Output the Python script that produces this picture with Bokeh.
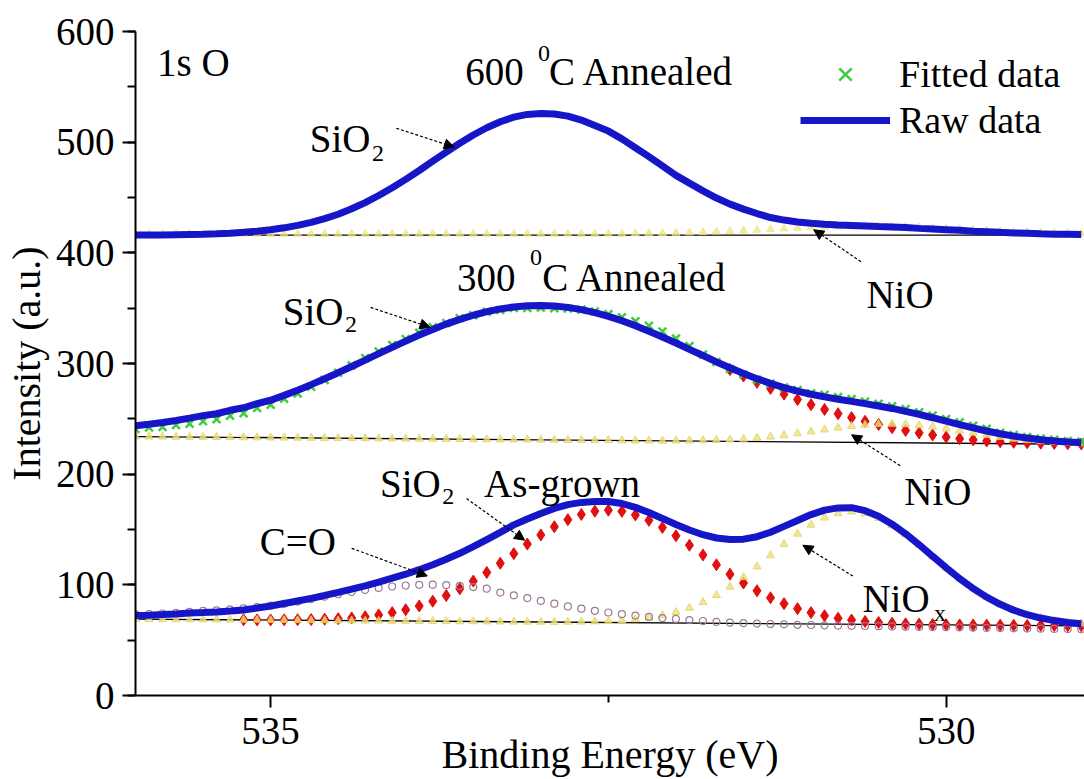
from bokeh.plotting import figure
from bokeh.models import (Range1d, Label, Arrow, NormalHead, FixedTicker,
                          SingleIntervalTicker, Legend, LegendItem, ColumnDataSource)
from bokeh.embed import file_html
from bokeh.resources import INLINE

FONT = "Liberation Serif"

# ---------------- data (binding energy grid, 0.1 eV steps, 536.0 -> 529.0) -------------
energy = [round(536.0 - 0.1 * i, 1) for i in range(71)]

# 600 C annealed
raw_600 = [416.1, 416.2, 416.2, 416.4, 416.6, 416.8, 417.2, 417.8, 418.5, 419.5,
           420.8, 422.6, 424.8, 427.6, 430.9, 434.9, 439.8, 445.4, 451.8, 458.8,
           466.4, 474.4, 482.8, 491.0, 499.0, 506.5, 513.0, 518.5, 522.6, 525.1,
           526.0, 525.5, 523.5, 520.0, 515.0, 510.0, 503.0, 495.0, 487.0, 478.5,
           470.0, 463.0, 456.0, 449.5, 444.0, 439.5, 435.5, 431.9, 429.6, 427.9,
           426.7, 425.9, 425.2, 424.7, 424.2, 423.7, 423.3, 422.8, 422.1, 421.5,
           420.9, 420.3, 419.6, 419.1, 418.5, 418.0, 417.6, 417.2, 416.9, 416.7,
           416.5]
nio_600 = [417.0, 417.0, 417.0, 417.0, 417.0, 417.0, 417.0, 417.0, 417.0, 417.0,
           417.0, 417.0, 417.0, 417.0, 417.0, 417.0, 417.0, 417.0, 417.0, 417.0,
           417.0, 417.0, 417.0, 417.0, 417.0, 417.0, 417.0, 417.0, 417.0, 417.0,
           417.0, 417.0, 417.0, 417.0, 417.0, 417.0, 417.0, 417.3, 417.5, 417.7,
           417.9, 418.2, 418.6, 419.0, 419.5, 420.1, 420.6, 421.3, 421.8, 422.3,
           422.9, 423.4, 423.7, 423.9, 424.0, 423.9, 423.7, 423.4, 422.9, 422.3,
           421.8, 421.3, 420.6, 420.1, 419.5, 419.0, 418.6, 418.2, 417.9, 417.7,
           417.5]

# 300 C annealed
raw_300 = [243.8, 245.1, 246.7, 248.5, 250.6, 252.9, 254.6, 257.7, 260.0, 263.7,
           266.8, 271.2, 275.9, 280.9, 286.2, 291.7, 297.3, 303.0, 308.9, 314.6,
           320.2, 325.7, 330.8, 335.6, 339.9, 343.6, 346.8, 349.3, 351.1, 352.2,
           352.5, 352.0, 350.7, 348.7, 346.0, 342.6, 338.7, 334.2, 329.2, 323.9,
           318.5, 312.8, 307.2, 301.4, 296.1, 291.0, 286.3, 282.0, 278.2, 275.0,
           272.2, 269.8, 267.7, 265.8, 263.7, 261.6, 259.4, 256.8, 254.0, 251.0,
           247.9, 244.8, 241.8, 239.0, 236.5, 234.4, 232.6, 231.1, 230.0, 229.0,
           228.4]
fit_300 = [240.8, 242.1, 242.7, 244.5, 245.6, 247.9, 249.6, 252.7, 255.0, 259.7,
           262.8, 268.2, 272.9, 278.9, 285.2, 291.7, 298.3, 305.0, 310.9, 316.6,
           322.2, 327.7, 332.8, 336.6, 340.9, 343.6, 346.8, 348.3, 350.1, 350.2,
           350.5, 350.0, 349.7, 348.7, 347.0, 344.6, 341.7, 338.2, 334.2, 328.9,
           322.5, 315.8, 308.2, 301.4, 295.1, 290.0, 285.3, 282.0, 278.2, 276.0,
           273.2, 271.8, 269.7, 267.8, 265.7, 263.6, 261.4, 258.8, 256.0, 253.0,
           249.9, 246.8, 243.8, 241.0, 237.5, 235.4, 233.6, 232.1, 231.0, 230.0,
           229.4]
sio2_300 = [240.8, 242.1, 243.7, 245.5, 247.6, 249.9, 252.6, 255.7, 259.0, 262.7,
            266.8, 271.2, 275.9, 280.9, 286.2, 291.7, 297.3, 303.0, 308.9, 314.6,
            320.2, 325.7, 330.8, 335.6, 339.9, 343.6, 346.8, 349.3, 351.1, 352.2,
            352.5, 352.0, 350.7, 348.7, 346.0, 342.6, 338.7, 334.2, 329.2, 323.9,
            318.2, 312.4, 306.5, 300.4, 294.5, 288.7, 283.0, 277.5, 272.3, 267.4,
            262.8, 258.5, 254.6, 251.1, 247.8, 244.9, 242.0, 239.5, 237.3, 235.4,
            233.5, 232.0, 231.0, 230.0, 229.3, 228.8, 228.4, 228.0, 227.8, 227.5,
            227.3]
nio_300 = [234.0, 233.9, 233.8, 233.7, 233.6, 233.5, 233.4, 233.3, 233.2, 233.1,
           233.0, 232.9, 232.8, 232.7, 232.6, 232.5, 232.4, 232.3, 232.2, 232.1,
           232.0, 231.9, 231.8, 231.7, 231.6, 231.5, 231.4, 231.3, 231.2, 231.1,
           231.0, 230.9, 230.8, 230.7, 230.6, 230.5, 230.4, 230.3, 230.2, 230.1,
           230.3, 230.3, 230.5, 230.7, 231.2, 231.8, 232.7, 233.8, 235.1, 236.7,
           238.4, 240.2, 241.9, 243.4, 244.5, 245.2, 245.4, 245.0, 244.1, 242.8,
           241.1, 239.2, 237.2, 235.3, 233.5, 231.9, 230.7, 229.6, 228.8, 228.1,
           227.7]

# As-grown
raw_ag = [72.3, 72.6, 73.1, 73.7, 74.5, 74.9, 75.5, 76.3, 77.3, 79.0,
          80.9, 83.1, 85.4, 87.8, 90.4, 93.2, 96.1, 99.1, 102.5, 106.0,
          109.6, 113.7, 118.2, 123.1, 128.5, 134.5, 140.9, 147.4, 154.2, 159.5,
          164.5, 169.0, 172.5, 174.5, 175.3, 175.3, 173.5, 170.0, 165.3, 160.0,
          154.5, 149.5, 145.3, 142.3, 141.0, 141.3, 143.5, 147.5, 152.8, 158.2,
          163.5, 167.5, 169.5, 169.7, 167.0, 162.0, 154.8, 146.1, 136.3, 125.8,
          115.5, 105.6, 96.7, 88.9, 82.4, 77.1, 73.0, 70.0, 67.7, 66.0,
          64.8]
sio2_ag = [69.0, 68.9, 68.8, 68.7, 68.7, 68.6, 68.5, 68.4, 68.4, 68.3,
           68.3, 68.4, 68.5, 68.6, 68.9, 69.4, 70.1, 71.2, 72.8, 74.9,
           77.5, 80.9, 85.2, 90.3, 96.4, 103.4, 111.2, 119.5, 128.2, 136.8,
           145.1, 152.5, 158.9, 163.6, 166.6, 167.5, 166.4, 163.2, 158.3, 151.9,
           144.3, 135.8, 127.0, 118.1, 109.6, 101.6, 94.6, 88.3, 83.0, 78.5,
           74.9, 72.1, 69.8, 68.2, 66.9, 66.0, 65.3, 64.8, 64.5, 64.2,
           64.0, 63.8, 63.7, 63.6, 63.5, 63.4, 63.3, 63.3, 63.2, 63.1,
           63.0]
co_ag = [73.3, 73.6, 74.1, 74.7, 75.5, 76.4, 77.0, 77.8, 78.7, 79.9,
         81.2, 82.8, 84.9, 87.1, 89.3, 91.5, 93.6, 95.4, 97.2, 98.5,
         99.4, 100.0, 100.1, 99.8, 99.0, 98.0, 96.5, 93.0, 90.5, 88.0,
         85.5, 83.0, 80.5, 78.5, 76.5, 75.0, 73.5, 72.2, 71.0, 70.0,
         69.2, 68.2, 67.3, 66.5, 65.9, 65.4, 65.0, 64.6, 64.3, 63.9,
         63.7, 63.4, 63.2, 63.0, 62.8, 62.6, 62.4, 62.2, 62.0, 61.8,
         61.7, 61.5, 61.3, 61.1, 60.9, 60.7, 60.5, 60.4, 60.2, 60.0,
         59.8]
niox_ag = [69.0, 68.9, 68.8, 68.7, 68.7, 68.6, 68.5, 68.4, 68.3, 68.2,
           68.1, 68.1, 68.0, 67.9, 67.8, 67.7, 67.6, 67.5, 67.5, 67.4,
           67.3, 67.2, 67.1, 67.0, 66.9, 66.9, 66.8, 66.7, 66.6, 66.5,
           66.4, 66.3, 66.5, 66.6, 66.8, 67.1, 67.7, 68.7, 70.2, 72.4,
           75.3, 79.2, 84.3, 90.6, 98.2, 106.8, 116.5, 126.6, 136.7, 146.1,
           154.2, 160.6, 164.6, 166.0, 164.5, 160.3, 153.7, 145.4, 135.8, 125.5,
           115.3, 105.5, 96.7, 88.9, 82.4, 77.1, 73.0, 70.0, 67.7, 66.0,
           64.8]

# linear backgrounds (end points)
base_energy = [536.0, 529.0]
base_600 = [416.0, 416.0]
base_300 = [234.0, 227.0]
base_ag = [69.0, 63.0]

y_ticks_interval = 100
x_ticks = [535, 530]
x_minor = [532.5]

# ---------------- figure ----------------
src = ColumnDataSource(dict(e=energy, raw600=raw_600, nio600=nio_600,
                            raw300=raw_300, fit300=fit_300, nio300=nio_300,
                            rawag=raw_ag, coag=co_ag, nioxag=niox_ag))
# SiO2 components are only shown where they leave the envelope / appear in the figure
src_sio300 = ColumnDataSource(dict(e=energy[44:], v=sio2_300[44:]))
src_sioag = ColumnDataSource(dict(e=energy[8:], v=sio2_ag[8:]))

p = figure(width=1084, height=779, output_backend="svg", toolbar_location=None,
           x_range=Range1d(536.0, 528.976), y_range=Range1d(0, 600),
           min_border_left=133, min_border_right=0, min_border_top=31, min_border_bottom=81)
p.outline_line_color = None
p.xgrid.visible = False
p.ygrid.visible = False
p.background_fill_color = "white"
p.border_fill_color = "white"

for ax in (p.xaxis[0], p.yaxis[0]):
    ax.axis_line_width = 2
    ax.axis_line_color = "black"
    ax.major_tick_line_width = 2
    ax.minor_tick_line_width = 2
    ax.major_tick_line_color = "black"
    ax.minor_tick_line_color = "black"
    ax.major_tick_in = 0
    ax.minor_tick_in = 0
    ax.major_label_text_font = FONT
    ax.major_label_text_font_size = "39px"
    ax.major_label_text_color = "black"
    ax.axis_label_text_font = FONT
    ax.axis_label_text_font_size = "40px"
    ax.axis_label_text_font_style = "normal"
    ax.axis_label_text_color = "black"

p.yaxis.ticker = SingleIntervalTicker(interval=y_ticks_interval, num_minor_ticks=2)
p.yaxis.major_tick_out = 13
p.yaxis.minor_tick_out = 8
p.yaxis.major_label_standoff = 8
p.yaxis.axis_label = "Intensity (a.u.)"
p.yaxis.axis_label_standoff = 4

p.xaxis.ticker = FixedTicker(ticks=x_ticks, minor_ticks=x_minor)
p.xaxis.major_tick_out = 12
p.xaxis.minor_tick_out = 7
p.xaxis.major_label_standoff = 10
p.xaxis.axis_label = "Binding Energy (eV)"
p.xaxis.axis_label_standoff = -15

# backgrounds
for b in (base_600, base_300, base_ag):
    p.line(base_energy, b, line_color="black", line_width=1.3)

YEL = "#ece27e"
# components (red first, yellow triangles drawn over them)
p.scatter('e', 'v', source=src_sio300, marker="diamond", size=12,
          fill_color="#e01010", line_color="#e01010")
p.scatter('e', 'v', source=src_sioag, marker="diamond", size=12,
          fill_color="#e01010", line_color="#e01010")
p.scatter('e', 'nio600', source=src, marker="triangle", size=8,
          fill_color=YEL, line_color=YEL, alpha=0.7)
p.scatter('e', 'nio300', source=src, marker="triangle", size=8,
          fill_color=YEL, line_color="#e0d060", alpha=0.8)
p.scatter('e', 'nioxag', source=src, marker="triangle", size=8,
          fill_color=YEL, line_color="#e0d060", alpha=0.8)
p.scatter('e', 'coag', source=src, marker="circle", size=7,
          fill_color=None, line_color="#9a7a96", line_width=1.2)
green_r = p.scatter('e', 'fit300', source=src, marker="x", size=11,
                    line_color="#3ccc3c", line_width=2.5)

BLUE = "#1616c8"
p.line('e', 'raw600', source=src, line_color=BLUE, line_width=7)
blue_r = p.line('e', 'raw300', source=src, line_color=BLUE, line_width=7)
p.line('e', 'rawag', source=src, line_color=BLUE, line_width=7)

# legend
legend = Legend(items=[LegendItem(label="Fitted data", renderers=[green_r]),
                       LegendItem(label="Raw data", renderers=[blue_r])],
                location=(665, 553), glyph_width=90, glyph_height=44, label_height=44,
                label_standoff=9, spacing=2, padding=0, margin=0,
                border_line_color=None, background_fill_alpha=0,
                label_text_font=FONT, label_text_font_size="38px", label_text_color="black")
p.add_layout(legend)


def lab(x, y, text, size="39px", align="left"):
    p.add_layout(Label(x=x, y=y, text=text, text_font=FONT, text_font_size=size,
                       text_color="black", text_align=align, text_baseline="alphabetic"))


SUB = "24px"
lab(535.84, 572, "1s O")
lab(533.56, 563.8, "600")
lab(533.02, 580, "0", SUB)
lab(532.94, 563.8, "C Annealed")
lab(533.62, 377.7, "300")
lab(533.08, 395.7, "0", SUB)
lab(532.99, 377.7, "C Annealed")
lab(534.71, 503.6, "SiO")
lab(534.25, 490.1, "2", SUB)
lab(534.91, 347.1, "SiO")
lab(534.45, 335.4, "2", SUB)
lab(530.59, 362.4, "NiO")
lab(530.31, 184.4, "NiO")
lab(534.19, 191.5, "SiO")
lab(533.73, 179.9, "2", SUB)
lab(533.42, 191.5, "As-grown")
lab(535.08, 139.4, "C=O")
lab(530.62, 88.1, "NiO")
lab(530.09, 74.6, "x", SUB)

arrows = [((534.07, 512.6), (533.64, 495.5)),
          ((534.26, 350.7), (533.82, 332.7)),
          ((530.63, 392.0), (530.98, 420.9)),
          ((530.34, 207.7), (530.70, 235.6)),
          ((533.55, 178.0), (533.12, 140.3)),
          ((534.40, 133.0), (533.84, 108.0)),
          ((530.69, 107.9), (531.06, 135.8))]
for (xs, ys), (xe, ye) in arrows:
    p.add_layout(Arrow(x_start=xs, y_start=ys, x_end=xe, y_end=ye,
                       line_color="black", line_width=1.2, line_dash="3 2",
                       end=NormalHead(size=10, fill_color="black", line_color="black",
                                      line_width=1)))

open("out.html", "w").write(file_html(p, INLINE))
